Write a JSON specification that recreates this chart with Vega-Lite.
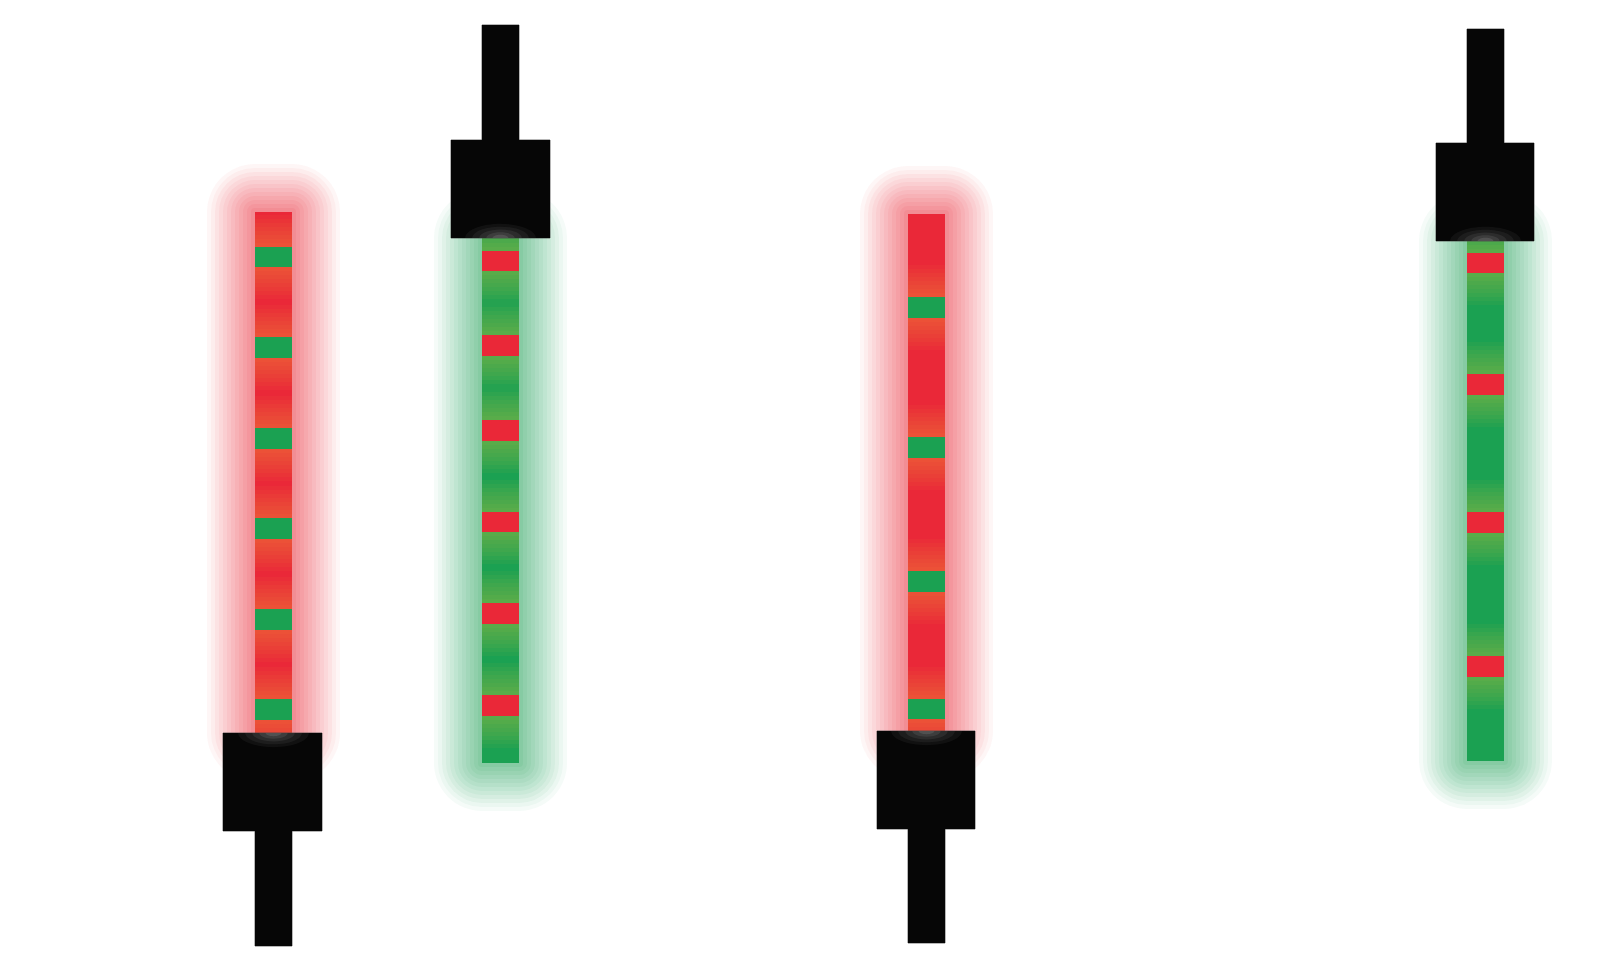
{
  "$schema": "https://vega.github.io/schema/vega-lite/v6.json",
  "width": 1620,
  "height": 978,
  "autosize": {"type": "fit", "contains": "padding"},
  "padding": 0,
  "background": "white",
  "config": {"view": {"stroke": null}},
  "datasets": {
    "bars": [
      {"col": 1, "type": "red", "x1": 255, "x2": 292, "y1": 212, "y2": 733},
      {"col": 2, "type": "green", "x1": 482, "x2": 519, "y1": 238, "y2": 763},
      {"col": 3, "type": "red", "x1": 908, "x2": 945, "y1": 214, "y2": 731},
      {"col": 4, "type": "green", "x1": 1467, "x2": 1504, "y1": 241, "y2": 761}
    ],
    "stripes": [
      {"col": 1, "type": "green", "x1": 255, "x2": 292, "y1": 247, "y2": 267},
      {"col": 1, "type": "green", "x1": 255, "x2": 292, "y1": 337, "y2": 358},
      {"col": 1, "type": "green", "x1": 255, "x2": 292, "y1": 428, "y2": 449},
      {"col": 1, "type": "green", "x1": 255, "x2": 292, "y1": 518, "y2": 539},
      {"col": 1, "type": "green", "x1": 255, "x2": 292, "y1": 609, "y2": 630},
      {"col": 1, "type": "green", "x1": 255, "x2": 292, "y1": 699, "y2": 720},
      {"col": 2, "type": "red", "x1": 482, "x2": 519, "y1": 251, "y2": 271},
      {"col": 2, "type": "red", "x1": 482, "x2": 519, "y1": 335, "y2": 356},
      {"col": 2, "type": "red", "x1": 482, "x2": 519, "y1": 420, "y2": 441},
      {"col": 2, "type": "red", "x1": 482, "x2": 519, "y1": 512, "y2": 532},
      {"col": 2, "type": "red", "x1": 482, "x2": 519, "y1": 603, "y2": 624},
      {"col": 2, "type": "red", "x1": 482, "x2": 519, "y1": 695, "y2": 716},
      {"col": 3, "type": "green", "x1": 908, "x2": 945, "y1": 297, "y2": 318},
      {"col": 3, "type": "green", "x1": 908, "x2": 945, "y1": 437, "y2": 458},
      {"col": 3, "type": "green", "x1": 908, "x2": 945, "y1": 571, "y2": 592},
      {"col": 3, "type": "green", "x1": 908, "x2": 945, "y1": 699, "y2": 719},
      {"col": 4, "type": "red", "x1": 1467, "x2": 1504, "y1": 253, "y2": 273},
      {"col": 4, "type": "red", "x1": 1467, "x2": 1504, "y1": 374, "y2": 395},
      {"col": 4, "type": "red", "x1": 1467, "x2": 1504, "y1": 512, "y2": 533},
      {"col": 4, "type": "red", "x1": 1467, "x2": 1504, "y1": 656, "y2": 677}
    ],
    "blacks": [
      {"col": 1, "part": "box", "x1": 223, "x2": 322, "y1": 733, "y2": 831},
      {"col": 1, "part": "stick", "x1": 255, "x2": 292, "y1": 831, "y2": 946},
      {"col": 2, "part": "stick", "x1": 482, "x2": 519, "y1": 25, "y2": 140},
      {"col": 2, "part": "box", "x1": 451, "x2": 550, "y1": 140, "y2": 238},
      {"col": 3, "part": "box", "x1": 877, "x2": 975, "y1": 731, "y2": 829},
      {"col": 3, "part": "stick", "x1": 908, "x2": 945, "y1": 829, "y2": 943},
      {"col": 4, "part": "stick", "x1": 1467, "x2": 1504, "y1": 29, "y2": 143},
      {"col": 4, "part": "box", "x1": 1436, "x2": 1534, "y1": 143, "y2": 241}
    ],
    "highlights": [
      {"col": 1, "x": 273.5, "y": 733, "side": "down"},
      {"col": 2, "x": 500.5, "y": 238, "side": "up"},
      {"col": 3, "x": 926.5, "y": 731, "side": "down"},
      {"col": 4, "x": 1485.5, "y": 241, "side": "up"}
    ]
  },
  "encoding": {
    "x": {"field": "x1", "type": "quantitative", "scale": {"domain": [0, 1620], "nice": false, "zero": false}, "axis": null},
    "x2": {"field": "x2"},
    "y": {"field": "y1", "type": "quantitative", "scale": {"domain": [0, 978], "reverse": true, "nice": false, "zero": false}, "axis": null},
    "y2": {"field": "y2"}
  },
  "layer": [
    {"data": {"name": "bars"}, "mark": {"type": "rect", "filled": false, "strokeWidth": 96, "strokeOpacity": 0.045, "strokeJoin": "round"},
     "encoding": {"stroke": {"field": "type", "type": "nominal", "scale": {"domain": ["green", "red"], "range": ["#1BA152", "#EA2838"]}, "legend": null}}},
    {"data": {"name": "bars"}, "mark": {"type": "rect", "filled": false, "strokeWidth": 88, "strokeOpacity": 0.045, "strokeJoin": "round"},
     "encoding": {"stroke": {"field": "type", "type": "nominal", "legend": null}}},
    {"data": {"name": "bars"}, "mark": {"type": "rect", "filled": false, "strokeWidth": 80, "strokeOpacity": 0.05, "strokeJoin": "round"},
     "encoding": {"stroke": {"field": "type", "type": "nominal", "legend": null}}},
    {"data": {"name": "bars"}, "mark": {"type": "rect", "filled": false, "strokeWidth": 72, "strokeOpacity": 0.05, "strokeJoin": "round"},
     "encoding": {"stroke": {"field": "type", "type": "nominal", "legend": null}}},
    {"data": {"name": "bars"}, "mark": {"type": "rect", "filled": false, "strokeWidth": 64, "strokeOpacity": 0.055, "strokeJoin": "round"},
     "encoding": {"stroke": {"field": "type", "type": "nominal", "legend": null}}},
    {"data": {"name": "bars"}, "mark": {"type": "rect", "filled": false, "strokeWidth": 56, "strokeOpacity": 0.055, "strokeJoin": "round"},
     "encoding": {"stroke": {"field": "type", "type": "nominal", "legend": null}}},
    {"data": {"name": "bars"}, "mark": {"type": "rect", "filled": false, "strokeWidth": 48, "strokeOpacity": 0.06, "strokeJoin": "round"},
     "encoding": {"stroke": {"field": "type", "type": "nominal", "legend": null}}},
    {"data": {"name": "bars"}, "mark": {"type": "rect", "filled": false, "strokeWidth": 40, "strokeOpacity": 0.06, "strokeJoin": "round"},
     "encoding": {"stroke": {"field": "type", "type": "nominal", "legend": null}}},
    {"data": {"name": "bars"}, "mark": {"type": "rect", "filled": false, "strokeWidth": 32, "strokeOpacity": 0.065, "strokeJoin": "round"},
     "encoding": {"stroke": {"field": "type", "type": "nominal", "legend": null}}},
    {"data": {"name": "bars"}, "mark": {"type": "rect", "filled": false, "strokeWidth": 24, "strokeOpacity": 0.065, "strokeJoin": "round"},
     "encoding": {"stroke": {"field": "type", "type": "nominal", "legend": null}}},
    {"data": {"name": "bars"}, "mark": {"type": "rect", "filled": false, "strokeWidth": 16, "strokeOpacity": 0.07, "strokeJoin": "round"},
     "encoding": {"stroke": {"field": "type", "type": "nominal", "legend": null}}},
    {"data": {"name": "bars"}, "mark": {"type": "rect", "filled": false, "strokeWidth": 8, "strokeOpacity": 0.08, "strokeJoin": "round"},
     "encoding": {"stroke": {"field": "type", "type": "nominal", "legend": null}}},
    {"data": {"name": "bars"}, "mark": {"type": "rect"},
     "encoding": {"fill": {"field": "type", "type": "nominal", "scale": {"domain": ["green", "red"], "range": ["#1BA152", "#EA2838"]}, "legend": null}}},
    {"data": {"name": "stripes"}, "mark": {"type": "rect", "yOffset": -32, "y2Offset": 32, "opacity": 0.1},
     "encoding": {"color": {"field": "type", "type": "nominal", "scale": {"domain": ["green", "red"], "range": ["#EF6B3B", "#7DB548"]}, "legend": null}}},
    {"data": {"name": "stripes"}, "mark": {"type": "rect", "yOffset": -28, "y2Offset": 28, "opacity": 0.11},
     "encoding": {"color": {"field": "type", "type": "nominal", "legend": null}}},
    {"data": {"name": "stripes"}, "mark": {"type": "rect", "yOffset": -24, "y2Offset": 24, "opacity": 0.12},
     "encoding": {"color": {"field": "type", "type": "nominal", "legend": null}}},
    {"data": {"name": "stripes"}, "mark": {"type": "rect", "yOffset": -20, "y2Offset": 20, "opacity": 0.12},
     "encoding": {"color": {"field": "type", "type": "nominal", "legend": null}}},
    {"data": {"name": "stripes"}, "mark": {"type": "rect", "yOffset": -16, "y2Offset": 16, "opacity": 0.13},
     "encoding": {"color": {"field": "type", "type": "nominal", "legend": null}}},
    {"data": {"name": "stripes"}, "mark": {"type": "rect", "yOffset": -12, "y2Offset": 12, "opacity": 0.13},
     "encoding": {"color": {"field": "type", "type": "nominal", "legend": null}}},
    {"data": {"name": "stripes"}, "mark": {"type": "rect", "yOffset": -8, "y2Offset": 8, "opacity": 0.14},
     "encoding": {"color": {"field": "type", "type": "nominal", "legend": null}}},
    {"data": {"name": "stripes"}, "mark": {"type": "rect", "yOffset": -4, "y2Offset": 4, "opacity": 0.15},
     "encoding": {"color": {"field": "type", "type": "nominal", "legend": null}}},
    {"data": {"name": "stripes"}, "mark": {"type": "rect"},
     "encoding": {"fill": {"field": "type", "type": "nominal", "legend": null}}},
    {"data": {"name": "blacks"}, "mark": {"type": "rect", "color": "#060606", "stroke": "#4a4a4a", "strokeWidth": 0.8}},
    {"data": {"name": "blacks"}, "mark": {"type": "rect", "color": "#060606"}},
    {"data": {"name": "highlights"}, "mark": {"type": "point", "filled": true, "color": "#b0b0b0", "opacity": 0.07, "size": 5000},
     "encoding": {"x": {"field": "x", "type": "quantitative"}, "y": {"field": "y", "type": "quantitative"}, "x2": null, "y2": null,
       "shape": {"field": "side", "type": "nominal", "scale": {"domain": ["down", "up"], "range": ["M -1 0 A 1 0.4 0 0 0 1 0 Z", "M -1 0 A 1 0.4 0 0 1 1 0 Z"]}, "legend": null}}},
    {"data": {"name": "highlights"}, "mark": {"type": "point", "filled": true, "color": "#b0b0b0", "opacity": 0.08, "size": 3200},
     "encoding": {"x": {"field": "x", "type": "quantitative"}, "y": {"field": "y", "type": "quantitative"}, "x2": null, "y2": null,
       "shape": {"field": "side", "type": "nominal", "legend": null}}},
    {"data": {"name": "highlights"}, "mark": {"type": "point", "filled": true, "color": "#b0b0b0", "opacity": 0.1, "size": 1800},
     "encoding": {"x": {"field": "x", "type": "quantitative"}, "y": {"field": "y", "type": "quantitative"}, "x2": null, "y2": null,
       "shape": {"field": "side", "type": "nominal", "legend": null}}},
    {"data": {"name": "highlights"}, "mark": {"type": "point", "filled": true, "color": "#bdbdbd", "opacity": 0.12, "size": 800},
     "encoding": {"x": {"field": "x", "type": "quantitative"}, "y": {"field": "y", "type": "quantitative"}, "x2": null, "y2": null,
       "shape": {"field": "side", "type": "nominal", "legend": null}}},
    {"data": {"name": "highlights"}, "mark": {"type": "point", "filled": true, "color": "#c8c8c8", "opacity": 0.15, "size": 250},
     "encoding": {"x": {"field": "x", "type": "quantitative"}, "y": {"field": "y", "type": "quantitative"}, "x2": null, "y2": null,
       "shape": {"field": "side", "type": "nominal", "legend": null}}}
  ]
}
